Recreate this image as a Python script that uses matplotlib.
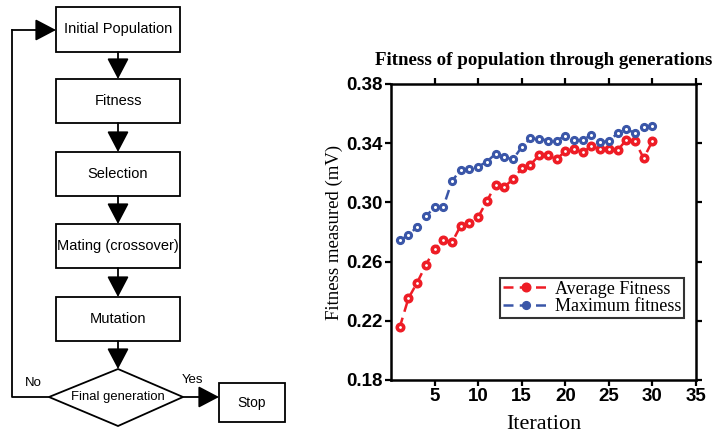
import matplotlib
matplotlib.use("Agg")
import matplotlib.pyplot as plt
from matplotlib.patches import Rectangle, Polygon, FancyArrowPatch

# GA fitness per iteration
iterations = list(range(1, 31))
avg_fitness = [0.2156, 0.2352, 0.2458, 0.2577, 0.2685, 0.2744, 0.2730, 0.2843, 0.2859, 0.2901,
               0.3009, 0.3118, 0.3104, 0.3158, 0.3230, 0.3255, 0.3318, 0.3318, 0.3291, 0.3347,
               0.3359, 0.3338, 0.3381, 0.3359, 0.3361, 0.3352, 0.3422, 0.3413, 0.3298, 0.3415]
max_fitness = [0.2744, 0.2778, 0.2836, 0.2906, 0.2967, 0.2969, 0.3145, 0.3219, 0.3228, 0.3241,
               0.3275, 0.3329, 0.3305, 0.3291, 0.3374, 0.3433, 0.3431, 0.3417, 0.3417, 0.3451,
               0.3419, 0.3422, 0.3458, 0.3406, 0.3415, 0.3467, 0.3494, 0.3469, 0.3509, 0.3518]
y_ticks = [0.18, 0.22, 0.26, 0.30, 0.34, 0.38]
x_ticks = [5, 10, 15, 20, 25, 30, 35]

# flowchart steps (box label, top, bottom) in pixel units
steps = [("Initial Population", 7, 52), ("Fitness", 79, 123), ("Selection", 152, 196),
         ("Mating (crossover)", 224, 268), ("Mutation", 297, 341)]

W, H = 714, 433
fig = plt.figure(figsize=(W / 100, H / 100), dpi=100)

flow_font = ["Liberation Sans", "DejaVu Sans"]
serif = ["Liberation Serif", "DejaVu Serif"]
bold_sans = ["Liberation Sans", "DejaVu Sans"]

# ---- flowchart ----
fa = fig.add_axes([0, 0, 1, 1])
fa.set_xlim(0, W)
fa.set_ylim(H, 0)
fa.axis("off")

box_l, box_r = 56, 180
cx = (box_l + box_r) / 2
lw = 1.3


def arrow(p0, p1):
    fa.add_patch(FancyArrowPatch(p0, p1, arrowstyle="-|>,head_length=0.8,head_width=0.42",
                                 mutation_scale=16, color="black", lw=lw, shrinkA=0, shrinkB=0))


for label, top, bot in steps:
    fa.add_patch(Rectangle((box_l, top), box_r - box_l, bot - top, fill=False, ec="black", lw=lw))
    fa.text(cx, (top + bot) / 2, label, ha="center", va="center", fontsize=10.5, family=flow_font)

for (_, _, bot), (_, top, _) in zip(steps[:-1], steps[1:]):
    arrow((cx, bot), (cx, top))

d_top, d_bot, d_l, d_r = 369, 426, 49, 183
d_cy = 397
arrow((cx, steps[-1][2]), (cx, d_top))
fa.add_patch(Polygon([(cx, d_top), (d_r, d_cy), (cx, d_bot), (d_l, d_cy)], closed=True,
                     fill=False, ec="black", lw=lw))
fa.text(cx, d_cy, "Final generation", ha="center", va="center", fontsize=9.4, family=flow_font)

# loop back on "No"
fa.plot([d_l, 12, 12], [d_cy, d_cy, 30], color="black", lw=lw)
arrow((12, 30), (box_l, 30))
fa.text(33, 383, "No", ha="center", va="center", fontsize=9.5, family=flow_font)

# stop on "Yes"
arrow((d_r, d_cy), (219, d_cy))
fa.text(193, 380, "Yes", ha="center", va="center", fontsize=9.5, family=flow_font)
fa.add_patch(Rectangle((219, 383), 66, 39, fill=False, ec="black", lw=lw))
fa.text(252, 402.5, "Stop", ha="center", va="center", fontsize=10, family=flow_font)

# ---- fitness chart ----
ax = fig.add_axes([391 / W, 1 - 380 / H, 305 / W, 296 / H])
ax.plot(iterations, avg_fitness, color="#ee1c25", ls=(0, (4, 2.5)), lw=1.8, marker="o",
        ms=6.2, mfc="#ee1c25", mec="#ee1c25", label="Average Fitness")
ax.plot(iterations, max_fitness, color="#3a56a8", ls=(0, (4, 2.5)), lw=1.8, marker="o",
        ms=5.6, mfc="#3a56a8", mec="#3a56a8", label="Maximum fitness")
ax.plot(iterations, avg_fitness, ls="none", marker="o", ms=1.0, mfc="white", mec="white")
ax.plot(iterations, max_fitness, ls="none", marker="o", ms=1.2, mfc="white", mec="white")

ax.set_xlim(0, 35)
ax.set_ylim(0.18, 0.38)
ax.set_xticks(x_ticks)
ax.set_yticks(y_ticks)
ax.set_yticklabels([f"{v:.2f}" for v in y_ticks])
ax.tick_params(direction="out", length=4, width=1.6, top=True, right=True,
               labelsize=13.5, pad=2)
for lab in ax.get_xticklabels() + ax.get_yticklabels():
    lab.set_family(bold_sans)
    lab.set_fontweight("bold")
for sp in ax.spines.values():
    sp.set_linewidth(1.8)

ax.set_xlabel("Iteration", fontsize=16, family=serif, labelpad=7)
ax.set_ylabel("Fitness measured (mV)", fontsize=13.5, family=serif, labelpad=2)
ax.set_title("Fitness of population through generations", fontsize=13.6, family=serif,
             fontweight="bold", pad=14)

leg = ax.legend(loc="upper left", bbox_to_anchor=(0.358, 0.345), frameon=True, fancybox=False,
                edgecolor="black", prop={"family": serif, "size": 13}, handlelength=2.6,
                handletextpad=0.3, borderpad=0.15, labelspacing=0.05, borderaxespad=0)
leg.get_frame().set_linewidth(1.5)

fig.savefig("out.png", dpi=100)
